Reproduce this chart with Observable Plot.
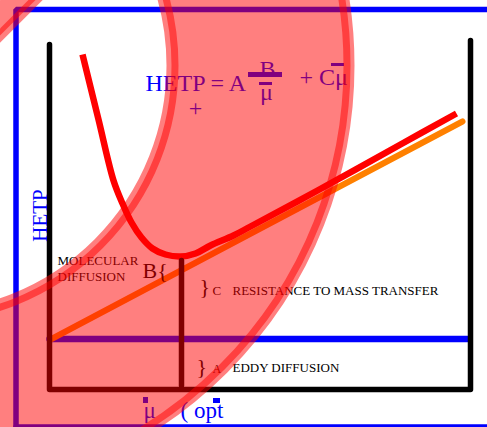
<!DOCTYPE html>
<html><head><meta charset="utf-8">
<script src="https://cdn.jsdelivr.net/npm/d3@7"></script>
<script src="https://cdn.jsdelivr.net/npm/@observablehq/plot@0.6"></script>
<style>
html,body{margin:0;padding:0;overflow:hidden;background:#fff;}
#chart{width:487px;height:427px;overflow:hidden;}
#chart svg{display:block;overflow:hidden;}
</style>
</head><body><div id="chart"></div>
<script>
// Van Deemter plot. u = mobile-phase velocity, h = HETP (arbitrary units)
const totalCurve = [ // HETP = A + B/u + Cu
  {u:0.825,h:8.375},{u:1.225,h:6.75},{u:1.6,h:5.225},{u:1.825,h:4.65},{u:2.05,h:4.175},
  {u:2.3,h:3.8},{u:2.575,h:3.525},{u:2.9,h:3.375},{u:3.275,h:3.325},{u:3.65,h:3.4},
  {u:4.025,h:3.6},{u:4.6,h:3.85},{u:5.025,h:4.075},{u:6.7,h:4.975},{u:8.775,h:6.125},{u:10.175,h:6.9}
];
const massTransferLine = [{u:0.025,h:1.25},{u:10.325,h:6.7}];   // A + Cu
const eddyLine = [{u:0,h:1.26},{u:10.45,h:1.26}];               // A
const axisFrame = [{u:0,h:8.625},{u:0,h:0},{u:10.525,h:0},{u:10.525,h:8.725}];
const optMarker = [{u:3.3,h:0.1},{u:3.3,h:3.225}];
const borderTopLeft = [{u:-0.8375,h:-1.3},{u:-0.8375,h:9.5},{u:11.3,h:9.5}];
const borderBottom = [{u:-0.8375,h:-0.9375},{u:11.3,h:-0.9375}];
const ringCenter = [{u:-3.225,h:8.1}];
const cornerBand = [{u1:-1.975,h1:8.4625,u2:0.0375,h2:10.475}];
const cornerEdge = [{u1:-1.975,h1:8.2,u2:0.3,h2:10.475}];

const formulaStart = [
  {t:"HETP = A",u:2.4,h:7.475},
  {t:"+ Cμ",u:6.25,h:7.625}
];
const formulaMiddle = [
  {t:"B",u:5.45,h:7.825},
  {t:"μ",u:5.425,h:7.25},
  {t:"+",u:3.65,h:6.85}
];
const optTexts = [
  {t:"μ",u:2.35,h:-0.7},
  {t:"( opt",u:3.275,h:-0.7}
];
const overbars = [
  {u1:4.975,u2:5.825,h1:7.8,h2:7.925},
  {u1:5.25,u2:5.575,h1:7.6,h2:7.675},
  {u1:7.05,u2:7.375,h1:8.075,h2:8.15},
  {u1:2.35,u2:2.475,h1:-0.35,h2:-0.2},
  {u1:4.1,u2:4.275,h1:-0.35,h2:-0.225}
];
const smallLabels = [
  {t:"C",u:4.075,h:2.375},
  {t:"RESISTANCE TO MASS TRANSFER",u:4.575,h:2.375},
  {t:"EDDY DIFFUSION",u:4.575,h:0.45}
];
const braceLabels = [
  {t:"B{",u:2.325,h:2.8},
  {t:"}",u:3.75,h:2.4},
  {t:"}",u:3.675,h:0.4}
];
const aLabel = [{t:"A",u:4.075,h:0.425}];
const molecular = [{t:"MOLECULAR\nDIFFUSION",u:0.2,h:2.725}];
const yLabel = [{t:"HETP",u:-0.225,h:4.35}];

const serif = "Liberation Serif, Times New Roman, serif";
const blue = "#0000ff";

const chart = Plot.plot({
  width: 487, height: 427,
  marginTop: 0, marginRight: 0, marginBottom: 0, marginLeft: 0,
  x: {domain: [-1.225, 10.95], range: [0, 487], axis: null},
  y: {domain: [-0.95, 9.725], range: [427, 0], axis: null},
  style: {background: "white", fontFamily: serif},
  marks: [
    Plot.line(borderTopLeft, {x:"u", y:"h", stroke: blue, strokeWidth: 5.5, strokeLinejoin: "miter"}),
    Plot.line(borderBottom, {x:"u", y:"h", stroke: blue, strokeWidth: 5.5}),
    Plot.line(eddyLine, {x:"u", y:"h", stroke: blue, strokeWidth: 6.5}),
    Plot.line(massTransferLine, {x:"u", y:"h", stroke: "#ff8000", strokeWidth: 6}),
    Plot.line(totalCurve, {x:"u", y:"h", stroke: "#ff0000", strokeWidth: 6.5, curve: "catmull-rom", strokeLinecap: "butt"}),
    Plot.line(axisFrame, {x:"u", y:"h", stroke: "#000", strokeWidth: 5.5, strokeLinejoin: "round"}),
    Plot.line(optMarker, {x:"u", y:"h", stroke: "#000", strokeWidth: 5.5}),
    Plot.rect(overbars, {x1:"u1", x2:"u2", y1:"h1", y2:"h2", fill: blue}),
    Plot.text(formulaStart, {x:"u", y:"h", text:"t", textAnchor: "start", fill: blue, fontSize: 24, lineAnchor: "bottom", fontFamily: serif}),
    Plot.text(formulaMiddle, {x:"u", y:"h", text:"t", textAnchor: "middle", fill: blue, fontSize: 24, lineAnchor: "bottom", fontFamily: serif}),
    Plot.text(optTexts, {x:"u", y:"h", text:"t", textAnchor: "start", fill: blue, fontSize: 23, lineAnchor: "bottom", fontFamily: serif}),
    Plot.text(yLabel, {x:"u", y:"h", text:"t", rotate: -90, fill: blue, fontSize: 21, fontFamily: serif}),
    Plot.text(smallLabels, {x:"u", y:"h", text:"t", textAnchor: "start", fill: "#000", fontSize: 13, lineAnchor: "bottom", fontFamily: serif}),
    Plot.text(aLabel, {x:"u", y:"h", text:"t", textAnchor: "start", fill: "#000", fontSize: 12, lineAnchor: "bottom", fontFamily: serif}),
    Plot.text(molecular, {x:"u", y:"h", text:"t", textAnchor: "start", fill: "#000", fontSize: 13, lineHeight: 1.22, lineAnchor: "bottom", fontFamily: serif}),
    Plot.text(braceLabels, {x:"u", y:"h", text:"t", textAnchor: "start", fill: "#000", fontSize: 22, lineAnchor: "bottom", fontFamily: serif}),
    // translucent red ring overlay
    Plot.dot(ringCenter, {x:"u", y:"h", r: 340, fill: "none", stroke: "#ff0000", strokeOpacity: 0.5, strokeWidth: 188}),
    Plot.dot(ringCenter, {x:"u", y:"h", r: 254.5, fill: "none", stroke: "#ff0000", strokeOpacity: 0.5, strokeWidth: 7}),
    Plot.dot(ringCenter, {x:"u", y:"h", r: 426.5, fill: "none", stroke: "#ff0000", strokeOpacity: 0.5, strokeWidth: 7}),
    Plot.link(cornerBand, {x1:"u1", y1:"h1", x2:"u2", y2:"h2", stroke: "#ff0000", strokeOpacity: 0.5, strokeWidth: 30}),
    Plot.link(cornerEdge, {x1:"u1", y1:"h1", x2:"u2", y2:"h2", stroke: "#ff0000", strokeOpacity: 0.5, strokeWidth: 5})
  ]
});
document.getElementById("chart").appendChild(chart);
</script>
</body></html>
